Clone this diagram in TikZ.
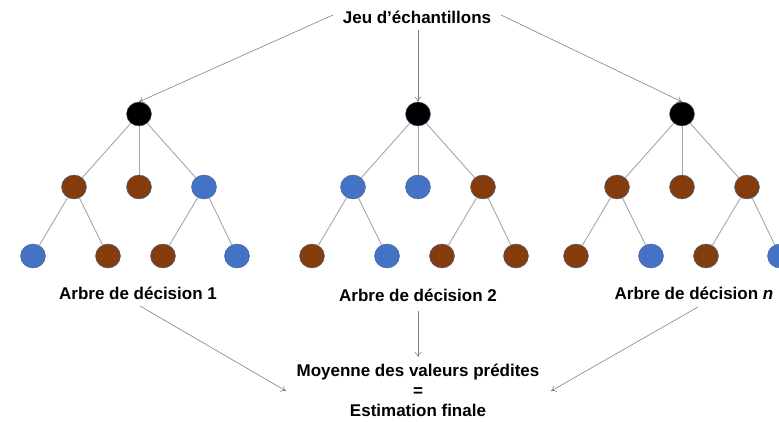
\documentclass[tikz,border=0pt]{standalone}
\usepackage{fontspec}
\setmainfont{Liberation Sans}
\usetikzlibrary{arrows.meta,shapes.geometric}
\definecolor{brownN}{RGB}{132,60,12}
\definecolor{blueN}{RGB}{68,114,196}
\definecolor{edgeC}{RGB}{166,166,166}
\definecolor{arrC}{RGB}{128,128,128}
\definecolor{rimC}{RGB}{70,100,150}
\tikzset{
  dot/.style={ellipse, minimum width=25pt, minimum height=24pt, inner sep=0pt, draw=rimC, line width=0.4pt},
  bn/.style={dot, fill=brownN},
  bl/.style={dot, fill=blueN},
  rt/.style={dot, fill=black},
  lbl/.style={font=\fontsize{17}{20}\selectfont\bfseries, inner sep=0pt, align=center},
  edge/.style={draw=edgeC, line width=0.9pt},
  arr/.style={draw=arrC, line width=0.6pt, -{To[length=5pt,width=7pt]}},
}
\begin{document}
\begin{tikzpicture}[x=1pt,y=-1pt]
\useasboundingbox (0,0) rectangle (779,422);
\node[lbl, anchor=base] (jeu) at (417,24) {Jeu d’échantillons};
\foreach \t/\r/\a/\b/\c/\la/\lb/\lc/\ld in {1/139/bn/bn/bl/bl/bn/bn/bl, 2/418/bl/bl/bn/bn/bl/bn/bn, 3/682/bn/bn/bn/bn/bl/bn/bl}{
  \node[rt] (r\t) at (\r,114) {};
  \node[\a] (a\t) at (\r-65,187) {};
  \node[\b] (b\t) at (\r,187) {};
  \node[\c] (c\t) at (\r+65,187) {};
  \node[\la] (l\t1) at (\r-106,256) {};
  \node[\lb] (l\t2) at (\r-31,256) {};
  \node[\lc] (l\t3) at (\r+24,256) {};
  \node[\ld] (l\t4) at (\r+98,256) {};
  \draw[edge] (r\t) -- (a\t);
  \draw[edge] (r\t) -- (b\t);
  \draw[edge] (r\t) -- (c\t);
  \draw[edge] (a\t) -- (l\t1);
  \draw[edge] (a\t) -- (l\t2);
  \draw[edge] (c\t) -- (l\t3);
  \draw[edge] (c\t) -- (l\t4);
}
\node[lbl, anchor=base] (t1) at (138,299) {Arbre de décision 1};
\node[lbl, anchor=base] (t2) at (418,301) {Arbre de décision 2};
\node[lbl, anchor=base] (t3) at (694,299) {Arbre de décision \textit{n}};
\node[lbl, anchor=base] (fin) at (418,416) {Moyenne des valeurs prédites\\=\\Estimation finale};
\coordinate (j1) at (333,15);
\coordinate (j2) at (418,30);
\coordinate (j3) at (501,15);
\draw[arr] (j1) -- (r1.north);
\draw[arr] (j2) -- (r2.north);
\draw[arr] (j3) -- (r3.north);
\coordinate (b1) at (140,306);
\coordinate (b2) at (418,311);
\coordinate (b3) at (698,307);
\coordinate (e1) at (286,391);
\coordinate (e2) at (418,357);
\coordinate (e3) at (551,391);
\draw[arr] (b1) -- (e1);
\draw[arr] (b2) -- (e2);
\draw[arr] (b3) -- (e3);
\end{tikzpicture}
\end{document}
